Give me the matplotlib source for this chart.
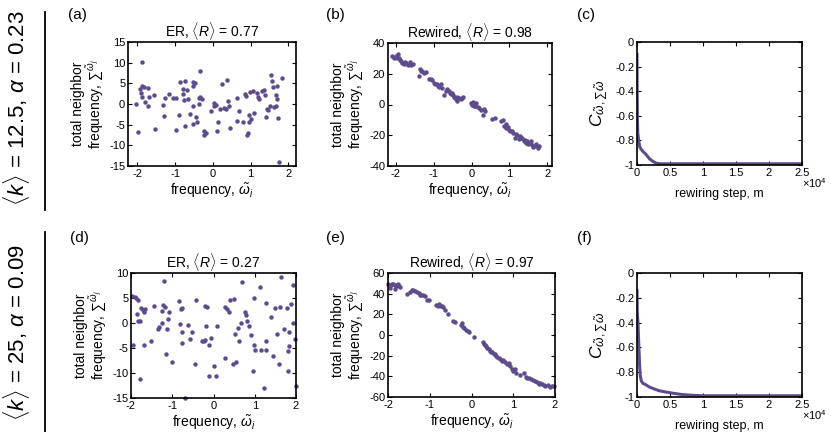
import matplotlib
matplotlib.use("Agg")
import matplotlib.pyplot as plt
import numpy as np

plt.rcParams['font.family'] = ['Liberation Sans', 'DejaVu Sans']
plt.rcParams['mathtext.fontset'] = 'custom'
plt.rcParams['mathtext.rm'] = 'Liberation Sans'
plt.rcParams['mathtext.it'] = 'Liberation Sans:italic'
plt.rcParams['mathtext.bf'] = 'Liberation Sans:bold'
plt.rcParams['axes.unicode_minus'] = False

PURPLE = '#5d4b8c'

# ---------------- data ----------------
# (a) ER, <k>=12.5
er1_x = [-1.89, -2.03, -1.99, -1.89, -1.91, -1.89, -1.82, -1.73, -1.80, -1.71, -1.69, -1.57, -1.53,
         -1.32, -1.30, -1.28, -1.16, -1.07, -0.99, -0.97, -0.91, -0.86, -0.80, -0.77, -0.75, -0.78,
         -0.73, -0.69, -0.66, -0.61, -0.54, -0.54, -0.52, -0.52, -0.48, -0.45, -0.43, -0.38, -0.38,
         -0.33, -0.33, -0.29, -0.25, -0.25, -0.19, -0.06, 0.02, 0.04, 0.08, 0.12, 0.14, 0.19, 0.23,
         0.35, 0.38, 0.41, 0.42, 0.44, 0.63, 0.65, 0.68, 0.79, 0.86, 0.88, 0.89, 0.93, 0.96, 0.96,
         0.99, 1.01, 1.06, 1.10, 1.17, 1.20, 1.30, 1.35, 1.39, 1.40, 1.44, 1.45, 1.52, 1.54, 1.56,
         1.59, 1.63, 1.67, 1.68, 1.69, 1.70, 1.71, 1.74, 1.83, -1.93, 0.30, 1.22]
er1_y = [10.2, 0.0, -6.8, 4.4, 2.6, 1.8, 4.0, 3.9, 0.5, -0.6, 1.6, 2.2, -6.0,
         -0.2, -3.0, 1.5, 2.4, 1.4, -6.3, 1.4, -2.6, 5.4, 2.4, 1.0, 5.6, 3.6,
         -5.3, 3.3, 1.3, -2.4, -4.9, -0.6, 4.4, 5.4, 5.0, -3.2, -4.4, 0.1, 1.4,
         8.1, 1.6, 1.1, -6.5, -7.5, -7.1, -1.7, 0.2, -0.6, -0.2, -6.5, -4.4, -1.1, 4.9,
         -1.2, 5.8, 0.7, -0.5, -5.7, -4.1, 1.5, -1.6, -4.4, 2.4, 2.0, -7.6, -7.1, -2.7, -4.4,
         2.9, -3.7, 3.1, -2.1, 2.6, 1.8, 3.2, 3.3, 2.1, -3.2, -1.3, -1.5, -0.4, 7.1, 5.6,
         4.2, -0.8, -0.5, 2.2, 1.3, 4.4, -3.5, -14.0, 6.2, 3.6, -1.0, 1.2]

# (b) Rewired, <k>=12.5
rw1_x = [-2.09, -2.03, -2.00, -1.97, -1.94, -1.90, -1.88, -1.85, -1.82, -1.78, -1.75, -1.72, -1.68,
         -1.63, -1.60, -1.55, -1.37, -1.33, -1.31, -1.38, -1.25, -1.21, -1.12, -1.06, -1.03, -0.99,
         -0.95, -0.92, -0.88, -0.85, -0.81, -0.77, -0.73, -0.68, -0.64, -0.59, -0.57, -0.55, -0.51,
         -0.48, -0.46, -0.44, -0.42, -0.39, -0.37, -0.33, -0.29, -0.25, -0.22, -0.02, 0.00, 0.04,
         0.07, 0.09, 0.13, 0.17, 0.20, 0.24, 0.29, 0.33, 0.36, 0.55, 0.62, 0.77, 0.83, 0.86, 0.90,
         0.92, 0.96, 0.99, 1.02, 1.06, 1.10, 1.15, 1.18, 1.21, 1.24, 1.27, 1.31, 1.34, 1.38, 1.41,
         1.44, 1.47, 1.50, 1.53, 1.56, 1.60, 1.63, 1.67, 1.70, 1.74, 1.78]
rw1_y = [31.3, 30.5, 31.7, 30.0, 32.8, 30.5, 29.1, 28.5, 27.3, 26.2, 27.5, 26.9, 26.0,
         27.8, 25.6, 26.5, 23.4, 22.0, 21.9, 18.6, 20.5, 21.2, 16.8, 16.5, 16.0, 14.2,
         13.1, 13.5, 12.0, 11.5, 13.1, 10.9, 5.9, 9.0, 9.8, 8.7, 7.5, 6.6, 7.7,
         6.0, 5.0, 4.2, 3.7, 4.8, 2.2, 4.4, 3.3, 4.0, 5.0, 0.7, -0.5, 1.5,
         -1.0, -0.7, 1.1, -1.5, -2.2, -3.5, -6.6, -2.8, -4.5, -9.2, -8.7, -10.9, -9.8, -13.8, -13.0,
         -15.3, -14.5, -16.4, -17.0, -17.5, -18.5, -21.9, -19.0, -19.7, -22.5, -20.8, -22.0, -21.9, -23.5, -23.0,
         -24.8, -24.0, -26.0, -25.1, -24.0, -26.2, -27.8, -27.3, -25.5, -28.4, -27.3]

# (d) ER, <k>=25
er2_x = [-1.97, -1.91, -1.87, -1.83, -1.95, -1.86, -1.84, -1.79, -1.78, -1.75, -1.71, -1.68, -1.66,
         -1.68, -1.52, -1.45, -1.35, -1.31, -1.26, -1.26, -1.22, -1.19, -1.17, -1.15, -1.13, -1.10,
         -1.07, -1.01, -0.84, -0.78, -0.76, -0.82, -0.76, -0.77, -0.69, -0.61, -0.58, -0.51, -0.42,
         -0.44, -0.28, -0.24, -0.20, -0.21, -0.18, -0.15, -0.11, -0.11, -0.07, 0.02, 0.06, 0.09,
         0.27, 0.28, 0.32, 0.37, 0.39, 0.47, 0.50, 0.53, 0.55, 0.59, 0.63, 0.67, 0.69, 0.76, 0.79,
         0.80, 0.87, 0.92, 0.95, 0.99, 0.97, 1.01, 1.13, 1.15, 1.27, 1.23, 1.27, 1.28, 1.39, 1.45,
         1.48, 1.53, 1.58, 1.63, 1.61, 1.71, 1.78, 1.80, 1.80, 1.82, 1.83, 1.87, 1.92, 1.93, 1.98, 2.00]
er2_y = [5.4, 5.3, 5.0, 4.6, -4.3, 1.8, 0.5, 0.4, -11.1, 3.1, 2.6, 2.2, 2.8,
         -4.3, -3.6, 3.5, -1.1, -0.7, 0.0, 2.4, 3.6, 8.5, 3.2, -6.2, -1.1, 0.9,
         2.3, -7.8, 4.4, 2.8, 3.0, -0.2, -1.7, -4.0, -14.9, -0.3, -3.2, -1.7, 4.6,
         -8.2, -3.6, -3.6, -3.3, 3.4, -0.5, 3.2, -10.5, -4.4, -3.0, -8.5, -10.5, -0.6,
         -7.0, 3.2, 2.8, 2.2, 4.7, -8.2, 4.9, -2.2, -7.8, -0.9, -3.6, 0.0, 8.3, 2.3, 1.7,
         0.4, -0.5, -2.3, -9.5, 5.1, -4.3, -5.3, 7.3, -5.3, -5.4, -13.0, -3.6, 4.0, 1.3, -6.6,
         3.1, -2.1, -8.1, 9.3, 3.2, -1.1, 3.0, -5.6, -9.6, -4.6, -1.8, 3.8, 7.7, 0.0, -3.1, -12.5]

# (e) Rewired, <k>=25
rw2_x = [-1.99, -1.96, -1.93, -1.90, -1.87, -1.84, -1.81, -1.79, -1.77, -1.74, -1.71, -1.95, -1.83,
         -1.55, -1.47, -1.43, -1.39, -1.35, -1.30, -1.26, -1.23, -1.20, -1.16, -1.12, -1.06, -1.02,
         -0.84, -0.81, -0.78, -0.74, -0.71, -0.68, -0.63, -0.57, -0.45, -0.39, -0.25, -0.23, -0.21,
         -0.17, -0.13, -0.09, -0.05, 0.05, 0.28, 0.30, 0.32, 0.35, 0.37, 0.41, 0.44, 0.47, 0.50, 0.53,
         0.56, 0.59, 0.62, 0.66, 0.69, 0.72, 0.76, 0.80, 0.86, 0.90, 0.92, 0.96, 1.00, 1.04, 1.07,
         1.17, 1.25, 1.30, 1.33, 1.38, 1.43, 1.48, 1.53, 1.57, 1.61, 1.65, 1.69, 1.73, 1.77, 1.83,
         1.89, 1.94, 1.98]
rw2_y = [49.7, 48.5, 48.0, 49.5, 49.0, 48.2, 47.0, 48.5, 49.0, 47.5, 46.4, 45.8, 44.8,
         40.0, 42.0, 43.2, 43.5, 42.5, 41.5, 40.6, 39.0, 38.3, 38.5, 37.3, 34.1, 33.4,
         29.5, 28.0, 30.2, 27.6, 28.5, 26.9, 24.4, 20.5, 14.0, 12.3, 10.1, 11.8, 8.1,
         6.8, 4.9, 3.6, 2.5, -2.3, -7.1, -8.5, -9.4, -11.0, -12.7, -13.5, -15.3, -16.0, -16.9, -18.0,
         -18.5, -20.0, -21.1, -22.0, -23.4, -25.0, -24.5, -26.6, -28.2, -27.0, -29.9, -33.1, -34.7, -33.0, -36.4,
         -38.6, -36.4, -40.5, -41.2, -42.0, -42.9, -43.5, -44.5, -45.5, -47.1, -46.0, -47.7, -48.5, -49.4, -48.8,
         -50.3, -49.8, -49.4]

# (c), (f) correlation vs rewiring step
step_c = [0, 20, 60, 120, 250, 400, 600, 900, 1300, 1900, 2400, 2900, 3500, 6000, 10000, 15000, 20000, 25000]
corr_c = [-0.10, -0.40, -0.62, -0.74, -0.80, -0.85, -0.87, -0.89, -0.91, -0.95, -0.97, -0.985, -0.99,
          -0.99, -0.99, -0.99, -0.99, -0.99]
step_f = [0, 30, 80, 150, 250, 400, 500, 650, 900, 1300, 1900, 2600, 3400, 4400, 5500, 6800, 8000,
          10000, 15000, 20000, 25000]
corr_f = [-0.14, -0.30, -0.35, -0.40, -0.55, -0.75, -0.83, -0.87, -0.89, -0.90, -0.92, -0.935, -0.95,
          -0.96, -0.97, -0.98, -0.985, -0.99, -0.99, -0.99, -0.99]

titles = ['ER, $\\langle R\\rangle$ = 0.77', 'Rewired, $\\langle R\\rangle$ = 0.98',
          'ER, $\\langle R\\rangle$ = 0.27', 'Rewired, $\\langle R\\rangle$ = 0.97']
row_labels = ['$\\langle k\\rangle$ = 12.5, $\\alpha$ = 0.23', '$\\langle k\\rangle$ = 25, $\\alpha$ = 0.09']
step_ticks = [0, 5000, 10000, 15000, 20000, 25000]
step_ticklabels = ['0', '0.5', '1', '1.5', '2', '2.5']

# ---------------- figure ----------------
W, H = 831, 432
fig = plt.figure(figsize=(W / 100, H / 100), dpi=100)


def add_ax(left, top, right, bottom):
    return fig.add_axes([left / W, 1 - bottom / H, (right - left) / W, (bottom - top) / H])


def style(ax):
    ax.tick_params(direction='in', top=True, right=True, length=3, width=0.8,
                   labelsize=8, pad=2, colors='black')
    for s in ax.spines.values():
        s.set_linewidth(1.2)


YLAB = 'total neighbor\nfrequency, $\\sum{}^{\\tilde{\\omega}_j}$'
XLAB = 'frequency, $\\tilde{\\omega}_i$'
CLAB = '$C_{\\tilde{\\omega},\\sum\\tilde{\\omega}}$'

axa = add_ax(128, 42, 296, 166)
axb = add_ax(388, 43, 552, 166)
axc = add_ax(637, 42, 802, 165)
axd = add_ax(131, 273, 296, 398)
axe = add_ax(388, 273, 555, 397)
axf = add_ax(637, 273, 802, 397)

ms = 3.2
axa.plot(er1_x, er1_y, 'o', color=PURPLE, ms=ms, mec='none')
axa.set_xlim(-2.25, 2.2)
axa.set_ylim(-15, 15)
axa.set_xticks([-2, -1, 0, 1, 2])
axa.set_yticks([-15, -10, -5, 0, 5, 10, 15])

axb.plot(rw1_x, rw1_y, 'o', color=PURPLE, ms=ms, mec='none')
axb.set_xlim(-2.2, 2.12)
axb.set_ylim(-40, 40)
axb.set_xticks([-2, -1, 0, 1, 2])
axb.set_yticks([-40, -20, 0, 20, 40])

axd.plot(er2_x, er2_y, 'o', color=PURPLE, ms=ms, mec='none', clip_on=False)
axd.set_xlim(-2, 2)
axd.set_ylim(-15, 10)
axd.set_xticks([-2, -1, 0, 1, 2])
axd.set_yticks([-15, -10, -5, 0, 5, 10])

axe.plot(rw2_x, rw2_y, 'o', color=PURPLE, ms=ms, mec='none', clip_on=False)
axe.set_xlim(-2, 2)
axe.set_ylim(-60, 60)
axe.set_xticks([-2, -1, 0, 1, 2])
axe.set_yticks([-60, -40, -20, 0, 20, 40, 60])

for ax, t in zip([axa, axb, axd, axe], titles):
    ax.set_title(t, fontsize=10, pad=4)
    ax.set_xlabel(XLAB, fontsize=10, labelpad=2)
    ax.set_ylabel(YLAB, fontsize=10, labelpad=2, linespacing=1.0)
    style(ax)

for ax, sx, sy in [(axc, step_c, corr_c), (axf, step_f, corr_f)]:
    ax.plot(sx, sy, '-', color=PURPLE, lw=2.2)
    ax.set_xlim(0, 25000)
    ax.set_ylim(-1, 0)
    ax.set_xticks(step_ticks)
    ax.set_xticklabels(step_ticklabels)
    ax.set_yticks([-1, -0.8, -0.6, -0.4, -0.2, 0])
    ax.set_yticklabels(['-1', '-0.8', '-0.6', '-0.4', '-0.2', '0'])
    ax.set_xlabel('rewiring step, m', fontsize=9, labelpad=7)
    ax.set_ylabel(CLAB, fontsize=12.5, labelpad=4)
    ax.text(1.0, -0.09, '×10$^4$', transform=ax.transAxes, fontsize=8, ha='left', va='top')
    style(ax)

# panel letters
for lab, x, y in [('(a)', 68, 15), ('(b)', 326, 15), ('(c)', 577, 15),
                  ('(d)', 70, 238), ('(e)', 326, 238), ('(f)', 577, 238)]:
    fig.text(x / W, 1 - y / H, lab, fontsize=11, ha='left', va='center')

# row labels and separators
fig.text(17 / W, 1 - 108 / H, row_labels[0], fontsize=16, rotation=90, ha='center', va='center')
fig.text(17 / W, 1 - 333 / H, row_labels[1], fontsize=16, rotation=90, ha='center', va='center')
fig.add_artist(plt.Line2D([45 / W, 45 / W], [1 - 12 / H, 1 - 210 / H], color='black', lw=1.3))
fig.add_artist(plt.Line2D([45 / W, 45 / W], [1 - 232 / H, 0], color='black', lw=1.3))

fig.savefig('out.png', dpi=100)
